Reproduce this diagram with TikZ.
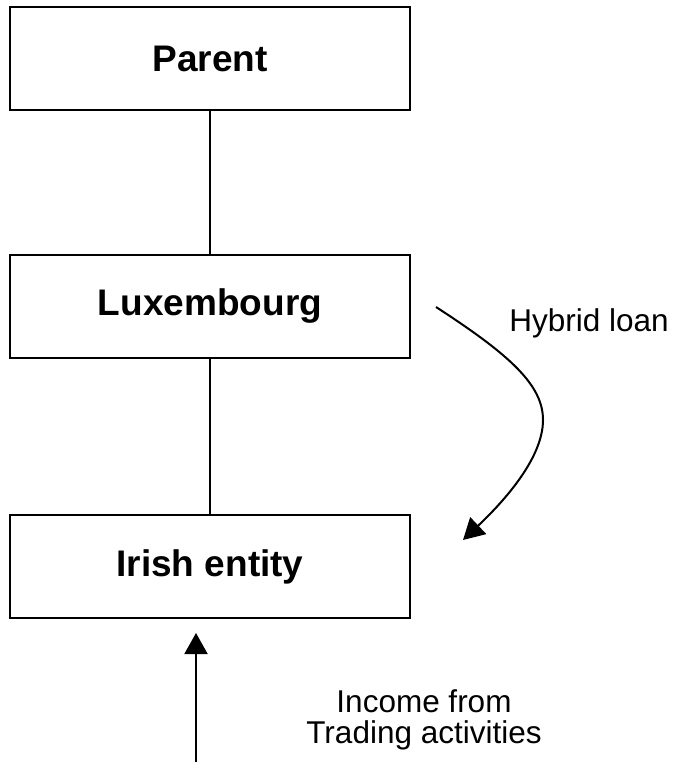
\documentclass[tikz,border=0pt]{standalone}
\usepackage{fontspec}
\setmainfont{Liberation Sans}
\usetikzlibrary{arrows.meta}
\begin{document}
\begin{tikzpicture}[x=1pt,y=-1pt,
  entity/.style={draw,line width=2pt,minimum width=400pt,minimum height=103pt,
    inner sep=0pt,font=\fontsize{37}{40}\selectfont\bfseries},
  link/.style={line width=2pt},
  flow/.style={line width=2pt,-{Triangle[length=21pt,width=23pt]}},
  caption/.style={font=\fontsize{31.5}{31}\selectfont,align=center,inner sep=0pt}]
\useasboundingbox (0,0) rectangle (674,762);
% ownership chain
\node[entity] (parent) at (210,59) {Parent};
\node[entity] (lux) at (210,306.5) {Luxembourg};
\node[entity] (irl) at (210,566.5) {Irish entity};
\draw[link] (parent) -- (lux);
\draw[link] (lux) -- (irl);
% hybrid loan from Luxembourg to Ireland
\coordinate (loanA) at (436,307);
\coordinate (loanB) at (463,540);
\draw[flow] (loanA) .. controls (510,355) and (543,385) .. (543,420)
  .. controls (543,460) and (500,505) .. (loanB);
\node[caption] (loan) at (589,323) {Hybrid loan};
% trading income into Ireland
\coordinate (incA) at (196,762);
\coordinate (incB) at (196,633);
\draw[flow] (incA) -- (incB);
\node[caption] (income) at (424,720) {Income from\\Trading activities};
\end{tikzpicture}
\end{document}
